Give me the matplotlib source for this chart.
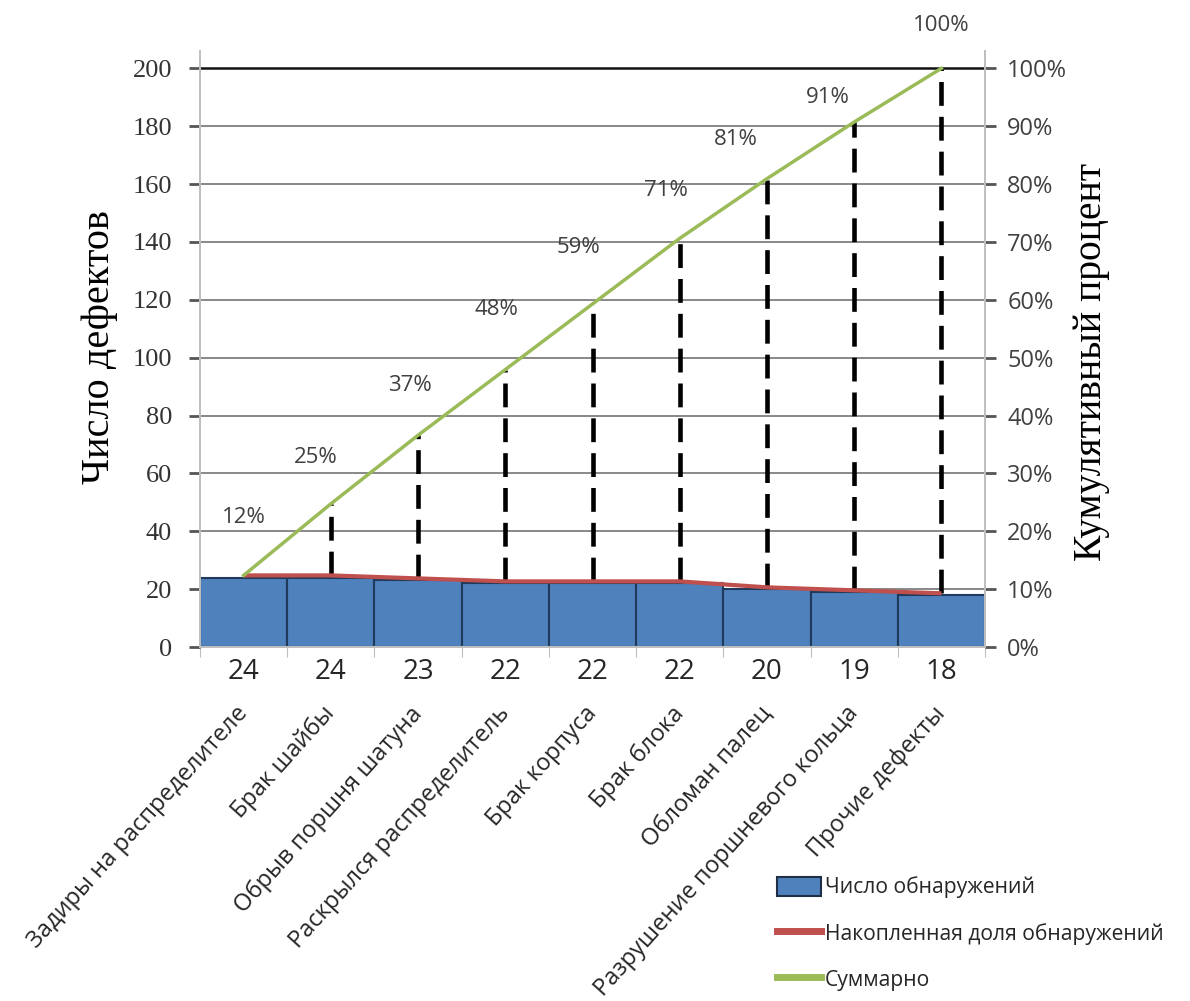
import numpy as np
import matplotlib
matplotlib.use("Agg")
import matplotlib.pyplot as plt
from matplotlib.patches import Patch
from matplotlib.lines import Line2D
from matplotlib.transforms import blended_transform_factory

# Data
categories = ["Задиры на распределителе", "Брак шайбы", "Обрыв поршня шатуна",
              "Раскрылся распределитель", "Брак корпуса", "Брак блока",
              "Обломан палец", "Разрушение поршневого кольца", "Прочие дефекты"]
counts = [24, 24, 23, 22, 22, 22, 20, 19, 18]
cum_labels = ["12%", "25%", "37%", "48%", "59%", "71%", "81%", "91%", "100%"]
left_ticks = [0, 20, 40, 60, 80, 100, 120, 140, 160, 180, 200]
right_ticks = [0, 10, 20, 30, 40, 50, 60, 70, 80, 90, 100]

# label offsets in pixels (dx, dy) for the cumulative labels
label_offsets = [(0, 58), (-15, 46), (-8, 50), (-9, 60), (-14, 56),
                 (-14, 48), (-31, 39), (-26, 25), (0, 43)]

SANS = ["Open Sans", "DejaVu Sans"]
SERIF = ["Liberation Serif", "DejaVu Serif"]
BLUE = "#4f81bd"
RED = "#c0504d"
GREEN = "#9bbb59"
TXT = "#404040"

total = sum(counts)
share = [c / total * 100 for c in counts]
cum = np.cumsum(share)
x = np.arange(len(counts))

fig = plt.figure(figsize=(11.9, 10.01), dpi=100)
ax = fig.add_axes([200 / 1190, 1 - 647 / 1001, 785 / 1190, 596 / 1001])
ax2 = ax.twinx()

# bars
ax.bar(x, counts, width=1.0, color=BLUE, edgecolor="#1f3a5a", linewidth=1.5, zorder=2)
ax.set_xlim(-0.5, len(counts) - 0.5)
ax.set_ylim(0, 206)
ax.set_yticks(left_ticks)
ax.set_yticklabels([str(t) for t in left_ticks], family=SERIF, fontsize=19, color="#333333")
ax.set_axisbelow(True)
for t in left_ticks[1:]:
    ax.axhline(t, color="#111111" if t == 200 else "#7f7f7f",
               lw=1.8 if t == 200 else 1.3, zorder=0)

# x ticks: boundaries as marks, counts as labels
ax.set_xticks(np.arange(-0.5, len(counts), 1.0))
ax.set_xticklabels([])
ax.tick_params(axis="x", which="major", length=7, color="#bfbfbf", direction="out")
ax.set_xticks(x, minor=True)
ax.set_xticklabels([str(c) for c in counts], minor=True, family=SANS, fontsize=20, color="#262626")
ax.tick_params(axis="x", which="minor", length=0, pad=8)
ax.tick_params(axis="y", length=8, color="#555555", width=2, pad=12)

for s in ["top"]:
    ax.spines[s].set_visible(False)
    ax2.spines[s].set_visible(False)
for a in (ax, ax2):
    for s in ["left", "right", "bottom"]:
        a.spines[s].set_color("#bfbfbf")
        a.spines[s].set_linewidth(1.3)

# category names, rotated
trans = blended_transform_factory(ax.transData, ax.transAxes)
for i, name in enumerate(categories):
    ax.text(i - 0.1, -0.092, name, rotation=48, rotation_mode="anchor",
            ha="right", va="top", transform=trans, family=SANS, fontsize=17, color="#262626")

# right axis: percent
ax2.set_ylim(0, 103)
ax2.set_yticks(right_ticks)
ax2.set_yticklabels([f"{t}%" for t in right_ticks], family=SANS, fontsize=17, color=TXT)
ax2.tick_params(axis="y", length=8, color="#555555", width=2, pad=8)

ax2.vlines(x[1:], share[1:], cum[1:], colors="black", lw=3.3, linestyles=(0, (5.2, 2.4)), zorder=3)
ax2.plot(x, share, color=RED, lw=3, zorder=4, solid_capstyle="butt")
ax2.plot(x, cum, color=GREEN, lw=2.5, zorder=5)

for i, lab in enumerate(cum_labels):
    ax2.annotate(lab, (x[i], cum[i]), xytext=label_offsets[i], textcoords="offset pixels",
                 ha="center", va="center", family=SANS, fontsize=16, color=TXT)

# axis titles
fig.text(100 / 1190, 1 - 347 / 1001, "Число дефектов", rotation=90, ha="center", va="center",
         family=SERIF, fontsize=29, color="black")
fig.text(1092 / 1190, 1 - 362 / 1001, "Кумулятивный процент", rotation=90, ha="center", va="center",
         family=SERIF, fontsize=28.5, color="black")

# legend
handles = [Patch(facecolor=BLUE, edgecolor="#1f2f45", linewidth=1.5),
           Line2D([], [], color=RED, lw=5),
           Line2D([], [], color=GREEN, lw=5)]
labels = ["Число обнаружений", "Накопленная доля обнаружений", "Суммарно"]
fig.legend(handles, labels, loc="upper left", bbox_to_anchor=(766 / 1190, 1 - 866 / 1001),
           frameon=False, prop={"family": SANS, "size": 15.2}, handlelength=2.1,
           handleheight=1.0, handletextpad=0.2, labelspacing=1.15, borderpad=0,
           labelcolor="#262626")

fig.savefig("out.png", dpi=100)
